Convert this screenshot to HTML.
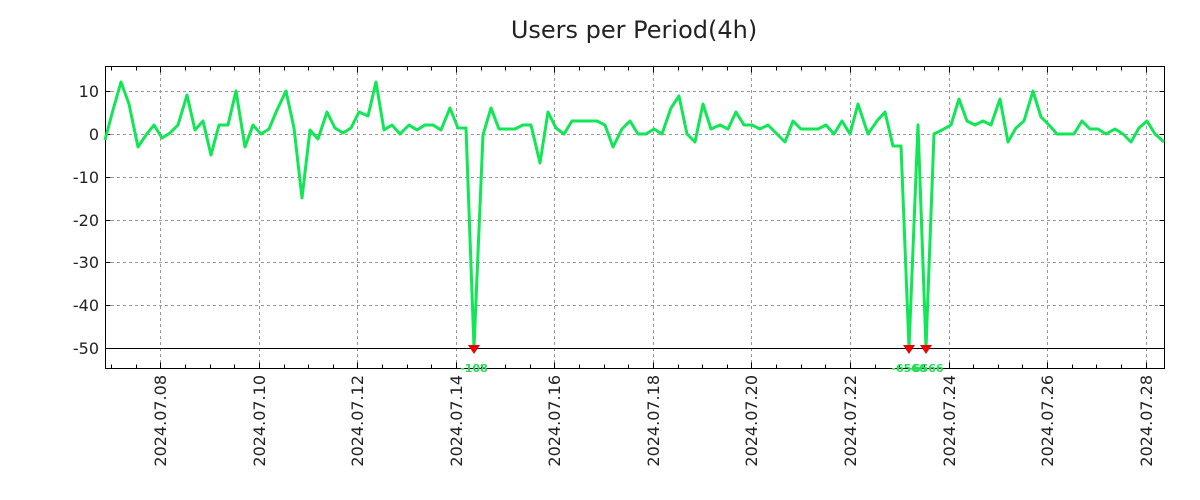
<!DOCTYPE html>
<html><head><meta charset="utf-8"><style>
html,body{margin:0;padding:0;background:#fff;}
svg{display:block;font-family:"DejaVu Sans","Liberation Sans",sans-serif;}
</style></head><body>
<svg width="1200" height="500" viewBox="0 0 1200 500" xmlns="http://www.w3.org/2000/svg">
<rect width="1200" height="500" fill="#fff"/>
<text x="634" y="38" font-size="24" text-anchor="middle" fill="#222">Users per Period(4h)</text>
<g stroke="#999" stroke-width="1" stroke-dasharray="3,3">
<line x1="105" x2="1164" y1="91.5" y2="91.5"/>
<line x1="105" x2="1164" y1="134.5" y2="134.5"/>
<line x1="105" x2="1164" y1="177.5" y2="177.5"/>
<line x1="105" x2="1164" y1="220.5" y2="220.5"/>
<line x1="105" x2="1164" y1="262.5" y2="262.5"/>
<line x1="105" x2="1164" y1="305.5" y2="305.5"/>
<line x1="160.5" x2="160.5" y1="66" y2="369"/>
<line x1="259.5" x2="259.5" y1="66" y2="369"/>
<line x1="357.5" x2="357.5" y1="66" y2="369"/>
<line x1="456.5" x2="456.5" y1="66" y2="369"/>
<line x1="554.5" x2="554.5" y1="66" y2="369"/>
<line x1="653.5" x2="653.5" y1="66" y2="369"/>
<line x1="751.5" x2="751.5" y1="66" y2="369"/>
<line x1="850.5" x2="850.5" y1="66" y2="369"/>
<line x1="949.5" x2="949.5" y1="66" y2="369"/>
<line x1="1047.5" x2="1047.5" y1="66" y2="369"/>
<line x1="1146.5" x2="1146.5" y1="66" y2="369"/>
</g>
<line x1="105" x2="1164" y1="348.5" y2="348.5" stroke="#000" stroke-width="1"/>
<rect x="105.5" y="66.5" width="1059" height="302" fill="none" stroke="#000" stroke-width="1"/>
<g stroke="#000" stroke-width="1" transform="translate(0.5,0.5)">
<path d="M105 91h5M105 134h5M105 177h5M105 220h5M105 262h5M105 305h5M105 348h5
M1164 91h-5M1164 134h-5M1164 177h-5M1164 220h-5M1164 262h-5M1164 305h-5M1164 348h-5"/>
<path d="M111 368v-4M136 368v-4M160 368v-6M185 368v-4M210 368v-4M234 368v-4M259 368v-6M284 368v-4M308 368v-4M333 368v-4M357 368v-6M382 368v-4M407 368v-4M431 368v-4M456 368v-6M481 368v-4M505 368v-4M530 368v-4M554 368v-6M579 368v-4M604 368v-4M628 368v-4M653 368v-6M678 368v-4M702 368v-4M727 368v-4M751 368v-6M776 368v-4M801 368v-4M825 368v-4M850 368v-6M875 368v-4M899 368v-4M924 368v-4M949 368v-6M973 368v-4M998 368v-4M1022 368v-4M1047 368v-6M1072 368v-4M1096 368v-4M1121 368v-4M1146 368v-6"/>
<path d="M111 66v4M136 66v4M160 66v6M185 66v4M210 66v4M234 66v4M259 66v6M284 66v4M308 66v4M333 66v4M357 66v6M382 66v4M407 66v4M431 66v4M456 66v6M481 66v4M505 66v4M530 66v4M554 66v6M579 66v4M604 66v4M628 66v4M653 66v6M678 66v4M702 66v4M727 66v4M751 66v6M776 66v4M801 66v4M825 66v4M850 66v6M875 66v4M899 66v4M924 66v4M949 66v6M973 66v4M998 66v4M1022 66v4M1047 66v6M1072 66v4M1096 66v4M1121 66v4M1146 66v6"/>
</g>
<g font-size="16" fill="#222" text-anchor="end">
<text x="99" y="97">10</text>
<text x="99" y="140">0</text>
<text x="99" y="183">-10</text>
<text x="99" y="226">-20</text>
<text x="99" y="268">-30</text>
<text x="99" y="311">-40</text>
<text x="99" y="354">-50</text>
</g>
<g font-size="16" fill="#222" text-anchor="end">
<text transform="translate(166,375) rotate(-90)">2024.07.08</text>
<text transform="translate(265,375) rotate(-90)">2024.07.10</text>
<text transform="translate(363,375) rotate(-90)">2024.07.12</text>
<text transform="translate(462,375) rotate(-90)">2024.07.14</text>
<text transform="translate(560,375) rotate(-90)">2024.07.16</text>
<text transform="translate(659,375) rotate(-90)">2024.07.18</text>
<text transform="translate(757,375) rotate(-90)">2024.07.20</text>
<text transform="translate(856,375) rotate(-90)">2024.07.22</text>
<text transform="translate(955,375) rotate(-90)">2024.07.24</text>
<text transform="translate(1053,375) rotate(-90)">2024.07.26</text>
<text transform="translate(1152,375) rotate(-90)">2024.07.28</text>
</g>
<polyline fill="none" stroke="#11e655" stroke-width="3" stroke-linejoin="round" points="105,140 113,110 121,82 129,104 138,147 146,135 154,125 162,138 170,133 178,125 187,95 195,130 203,121 211,155 219,125 228,125 236,91 245,147 253,125 261,134 269,129 277,110 286,91 294,128 302,198 310,130 318,139 327,112 335,128 343,133 351,128 359,112 368,116 376,82 384,130 392,125 400,134 409,125 417,130 425,125 433,125 441,130 450,108 458,128 466,128 474,348 483,135 491,108 499,129 507,129 515,129 523,125 531,125 540,163 548,112 556,128 564,134 572,121 580,121 589,121 597,121 605,125 613,147 622,129 630,121 638,134 646,134 654,129 662,134 671,108 679,96 687,134 695,142 703,104 711,129 720,125 728,129 736,112 744,125 752,125 760,129 768,125 777,134 785,142 793,121 801,129 809,129 818,129 826,125 834,134 842,121 850,134 858,104 868,134 877,121 885,112 893,146 901,146 909,348 918,125 926,348 934,134 942,130 951,125 959,99 967,121 975,125 983,121 991,125 1000,99 1008,142 1016,128 1024,121 1033,91 1041,117 1049,125 1057,134 1065,134 1074,134 1082,121 1090,129 1098,129 1106,134 1115,129 1123,134 1131,142 1139,128 1147,121 1155,134 1164,142"/>
<g fill="#ee0000">
<polygon points="468,345 480,345 474,354"/>
<polygon points="903,345 915,345 909,354"/>
<polygon points="920,345 932,345 926,354"/>
</g>
<g font-size="11" font-weight="bold" fill="#22dd55" text-anchor="middle">
<text x="474" y="372">-108</text>
<text x="909" y="372">-6566</text>
<text x="926" y="372">-6566</text>
</g>
</svg>
</body></html>
